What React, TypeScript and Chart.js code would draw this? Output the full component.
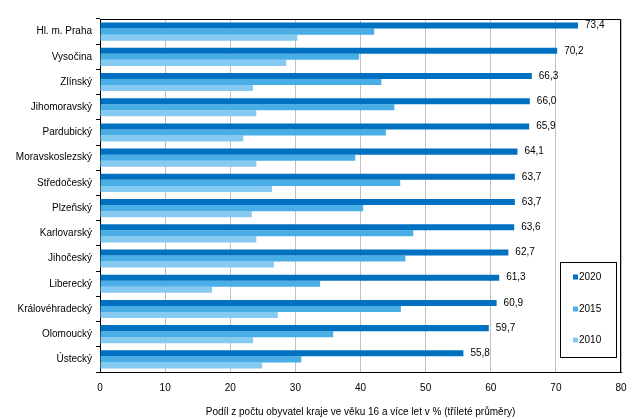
import React, { useEffect, useRef } from "react";
import { Chart, registerables } from "chart.js";

Chart.register(...registerables);

const categories = [
  "Hl. m. Praha",
  "Vysočina",
  "Zlínský",
  "Jihomoravský",
  "Pardubický",
  "Moravskoslezský",
  "Středočeský",
  "Plzeňský",
  "Karlovarský",
  "Jihočeský",
  "Liberecký",
  "Královéhradecký",
  "Olomoucký",
  "Ústecký",
];

const values2020 = [73.4, 70.2, 66.3, 66.0, 65.9, 64.1, 63.7, 63.7, 63.6, 62.7, 61.3, 60.9, 59.7, 55.8];
const values2015 = [42.1, 39.8, 43.2, 45.2, 43.9, 39.2, 46.1, 40.4, 48.1, 46.9, 33.8, 46.2, 35.8, 30.9];
const values2010 = [30.3, 28.6, 23.5, 24.0, 22.0, 24.0, 26.4, 23.3, 24.0, 26.7, 17.2, 27.3, 23.5, 24.9];

const seriesLabels = ["2020", "2015", "2010"];
const seriesColors = ["#0070C0", "#4AAEE6", "#86C9F1"];

const xMin = 0;
const xMax = 80;
const xStep = 10;
const xTitle = "Podíl z počtu obyvatel kraje ve věku 16 a více let v % (tříleté průměry)";

const FONT = '"Liberation Sans", Arial, sans-serif';

const borderPlugin = {
  id: "plotBorder",
  afterDatasetsDraw(chart: any) {
    const { ctx, chartArea } = chart;
    ctx.save();
    ctx.strokeStyle = "#000";
    ctx.lineWidth = 1;
    ctx.beginPath();
    const l = Math.round(chartArea.left) + 0.5;
    const r = Math.round(chartArea.right) - 0.5;
    const t = Math.round(chartArea.top) + 0.5;
    ctx.moveTo(l, t);
    ctx.lineTo(r, t);
    ctx.lineTo(r, Math.round(chartArea.bottom));
    ctx.stroke();
    ctx.restore();
  },
};

const labelPlugin = {
  id: "valueLabels",
  afterDatasetsDraw(chart: any) {
    const { ctx } = chart;
    const meta = chart.getDatasetMeta(0);
    const data = chart.data.datasets[0].data as number[];
    ctx.save();
    ctx.font = `10px ${FONT}`;
    ctx.fillStyle = "#000";
    ctx.textAlign = "left";
    ctx.textBaseline = "middle";
    meta.data.forEach((el: any, i: number) => {
      ctx.fillText(data[i].toFixed(1).replace(".", ","), el.x + 7, el.y);
    });
    ctx.restore();
  },
};

const legendPlugin = {
  id: "boxLegend",
  afterDraw(chart: any) {
    const { ctx, chartArea } = chart;
    const x2 = Math.round(chartArea.right) - 5;
    const y2 = Math.round(chartArea.bottom) - 15;
    const w = 56;
    const h = 95;
    const x1 = x2 - w;
    const y1 = y2 - h;
    ctx.save();
    ctx.fillStyle = "#fff";
    ctx.fillRect(x1, y1, w, h);
    ctx.strokeStyle = "#000";
    ctx.lineWidth = 1;
    ctx.strokeRect(x1 + 0.5, y1 + 0.5, w, h);
    ctx.font = `10px ${FONT}`;
    ctx.textBaseline = "middle";
    ctx.textAlign = "left";
    const rows = [15, 47, 78];
    chart.data.datasets.forEach((ds: any, i: number) => {
      const cy = y1 + rows[i];
      ctx.fillStyle = ds.backgroundColor;
      ctx.fillRect(x1 + 13, cy - 2.5, 5, 5);
      ctx.fillStyle = "#000";
      ctx.fillText(ds.label, x1 + 19, cy);
    });
    ctx.restore();
  },
};

export default function App() {
  const canvasRef = useRef<HTMLCanvasElement | null>(null);

  useEffect(() => {
    if (!canvasRef.current) return;
    Chart.defaults.font.family = FONT;
    Chart.defaults.font.size = 10;
    Chart.defaults.color = "#000";
    const values = [values2020, values2015, values2010];
    const chart = new Chart(canvasRef.current, {
      type: "bar",
      data: {
        labels: categories,
        datasets: seriesLabels.map((lab, i) => ({
          label: lab,
          data: values[i],
          backgroundColor: seriesColors[i],
          borderWidth: 0,
          categoryPercentage: 0.72,
          barPercentage: 1.0,
        })),
      },
      options: {
        indexAxis: "y",
        animation: false,
        responsive: false,
        layout: { padding: { top: 19, right: 22, bottom: 0, left: 0 } },
        plugins: {
          legend: { display: false },
          tooltip: { enabled: false },
        },
        scales: {
          x: {
            type: "linear",
            min: xMin,
            max: xMax,
            afterFit: (scale: any) => {
              scale.height = 47;
            },
            ticks: {
              stepSize: xStep,
              padding: 10,
              color: "#000",
              font: { size: 10, family: FONT },
            },
            grid: {
              color: "#c0c0c0",
              drawTicks: false,
            },
            border: { color: "#000", width: 1 },
            title: {
              display: true,
              text: xTitle,
              color: "#000",
              font: { size: 10, family: FONT },
              padding: { top: 0, bottom: 1 },
            },
          },
          y: {
            type: "category",
            afterFit: (scale: any) => {
              scale.width = 100;
            },
            ticks: {
              padding: 4,
              color: "#000",
              font: { size: 10, family: FONT },
            },
            grid: {
              display: true,
              drawOnChartArea: false,
              drawTicks: true,
              tickLength: 4,
              color: "#000",
              offset: true,
            },
            border: { color: "#000", width: 1 },
          },
        },
      },
      plugins: [borderPlugin, labelPlugin, legendPlugin],
    } as any);
    return () => chart.destroy();
  }, []);

  return (
    <div style={{ position: "fixed", left: 0, top: 0, width: 643, height: 419, background: "#fff" }}>
      <canvas ref={canvasRef} width={643} height={419} style={{ display: "block" }} />
    </div>
  );
}
